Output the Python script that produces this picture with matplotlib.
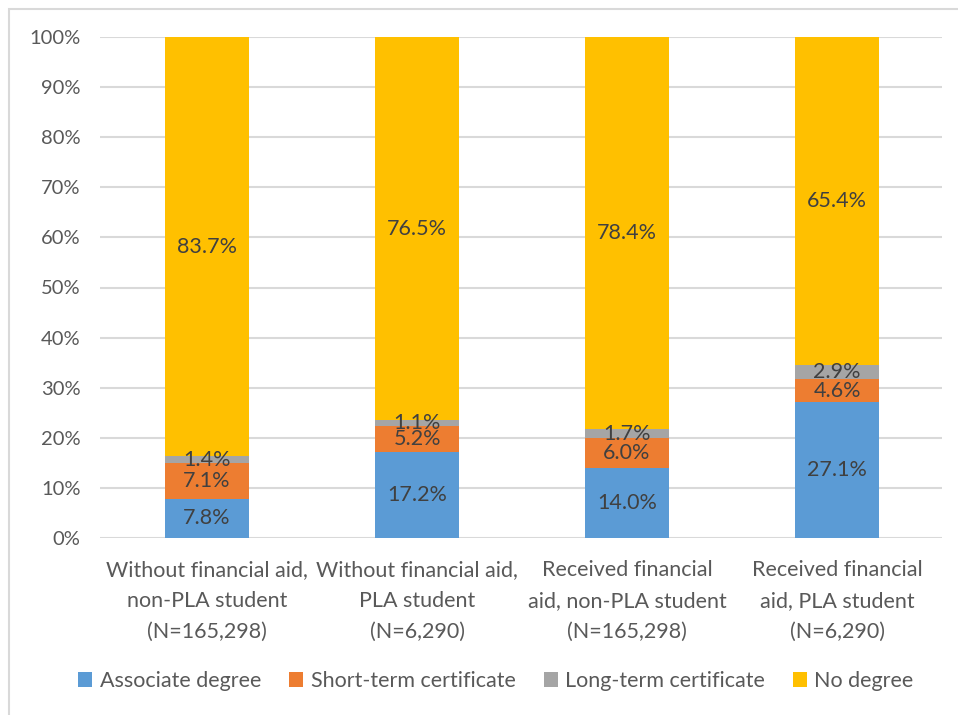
import matplotlib
matplotlib.use("Agg")
import matplotlib.pyplot as plt
from matplotlib.patches import Rectangle

categories = ["Without financial aid,\nnon-PLA student\n(N=165,298)",
              "Without financial aid,\nPLA student\n(N=6,290)",
              "Received financial\naid, non-PLA student\n(N=165,298)",
              "Received financial\naid, PLA student\n(N=6,290)"]
series_names = ["Associate degree", "Short-term certificate", "Long-term certificate", "No degree"]
associate = [7.8, 17.2, 14.0, 27.1]
short_term = [7.1, 5.2, 6.0, 4.6]
long_term = [1.4, 1.1, 1.7, 2.9]
no_degree = [83.7, 76.5, 78.4, 65.4]
colors = ["#5B9BD5", "#ED7D31", "#A5A5A5", "#FFC000"]
yticks = [0, 10, 20, 30, 40, 50, 60, 70, 80, 90, 100]

plt.rcParams['font.family'] = ['Lato', 'DejaVu Sans']
W, H = 958, 715
fig = plt.figure(figsize=(W/100, H/100), dpi=100)
fig.patches.append(Rectangle((9/W, -0.01), 1.0, 1 - 9/H + 0.01, transform=fig.transFigure,
                             fill=False, edgecolor="#D9D9D9", linewidth=1.5))
ax = fig.add_axes([100/W, 1 - 538/H, (942-100)/W, (538-37)/H])

x = list(range(len(categories)))
data = [associate, short_term, long_term, no_degree]
bottom = [0]*4
for vals, c, name in zip(data, colors, series_names):
    ax.bar(x, vals, 0.4, bottom=bottom, color=c, label=name, zorder=3)
    for xi, v, b in zip(x, vals, bottom):
        ax.text(xi, b + v/2, f"{v:.1f}%", ha="center", va="center", fontsize=15.5,
                color="#404040", zorder=4)
    bottom = [b + v for b, v in zip(bottom, vals)]

ax.set_xlim(-0.51, 3.5)
ax.set_ylim(0, 100)
ax.set_yticks(yticks)
ax.set_yticklabels([f"{t}%" for t in yticks], fontsize=14.5, color="#595959")
ax.set_xticks(x)
ax.set_xticklabels(categories, fontsize=15.5, color="#595959", linespacing=1.68)
ax.tick_params(length=0)
ax.tick_params(axis="y", pad=14)
ax.tick_params(axis="x", pad=16)
ax.grid(axis="y", color="#D9D9D9", linewidth=1.5, zorder=0)
for s in ax.spines.values():
    s.set_visible(False)

leg = fig.legend(loc="center", bbox_to_anchor=(496/W, 1 - 681/H), ncol=4, frameon=False,
                 fontsize=15.5, handlelength=0.65, handleheight=0.65, handletextpad=0.35,
                 columnspacing=1.3, labelcolor="#595959")

fig.savefig("out.png", dpi=100)
